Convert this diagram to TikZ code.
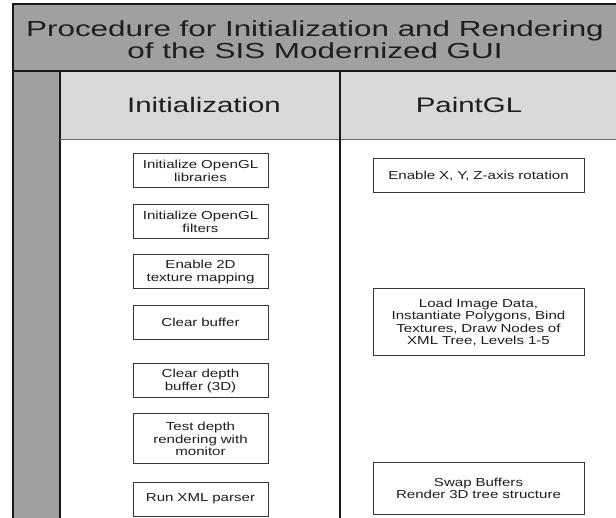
\documentclass[tikz,border=0pt]{standalone}
\usepackage{fontspec}
\setmainfont[FakeStretch=1.4]{Liberation Sans}
\newfontfamily\boxfont[FakeStretch=1.3]{Liberation Sans}
\newfontfamily\titlefont[FakeStretch=1.44]{Liberation Sans}
\definecolor{bandgray}{RGB}{160,160,160}
\definecolor{hdrgray}{RGB}{217,217,217}
\definecolor{edge}{RGB}{25,25,25}
\definecolor{boxedge}{RGB}{55,55,55}
\definecolor{txt}{RGB}{30,30,30}
\tikzset{
  stepbox/.style={draw=boxedge, line width=1pt, fill=white, inner sep=0pt,
    align=center, text=txt, font=\boxfont\fontsize{11.6}{12.5}\selectfont},
  lbox/.style={stepbox, minimum width=135pt, minimum height=34pt, text width=132pt},
  rbox/.style={stepbox, minimum width=211pt, minimum height=34pt, text width=207pt},
  frame/.style={draw=edge, line width=1.6pt},
  hdrtext/.style={text=txt, font=\fontsize{21}{24}\selectfont, inner sep=0pt},
}
\begin{document}
\begin{tikzpicture}[x=1pt,y=-1pt]
\useasboundingbox (0,0) rectangle (616,518);
% backgrounds
\fill[bandgray] (13,4) rectangle (630,71);
\fill[bandgray] (13,71) rectangle (60,530);
\fill[hdrgray] (60,71) rectangle (630,139);
% frame lines
\draw[frame] (630,4) -- (13,4) -- (13,530);
\draw[frame] (13,71) -- (630,71);
\draw[frame] (60,71) -- (60,530);
\draw[draw=black!60, line width=0.8pt] (60,139) -- (630,139);
\draw[frame, line width=1.3pt] (340,71) -- (340,530);
% title
\node[text=txt, align=center, inner sep=0pt, font=\titlefont\fontsize{21.8}{21.7}\selectfont]
  (title) at (315,40) {Procedure for Initialization and Rendering\\of the SIS Modernized GUI};
% headers
\node[hdrtext] (hinit) at (204,104.5) {Initialization};
\node[hdrtext] (hpaint) at (469,104.5) {PaintGL};
% left column
\node[lbox] (i1) at (200.5,171) {Initialize OpenGL\\libraries};
\node[lbox] (i2) at (200.5,222) {Initialize OpenGL\\filters};
\node[lbox] (i3) at (200.5,272) {Enable 2D\\texture mapping};
\node[lbox] (i4) at (200.5,322.5) {Clear buffer};
\node[lbox] (i5) at (200.5,381) {Clear depth\\buffer (3D)};
\node[lbox, minimum height=50pt] (i6) at (200.5,439) {Test depth\\rendering with\\monitor};
\node[lbox] (i7) at (200.5,499) {Run XML parser};
% right column
\node[rbox] (p1) at (478.5,176) {Enable X, Y, Z-axis rotation};
\node[rbox, minimum height=67pt] (p2) at (478.5,322.5) {Load Image Data,\\Instantiate Polygons, Bind\\Textures, Draw Nodes of\\XML Tree, Levels 1-5};
\node[rbox, minimum height=51pt] (p3) at (478.5,488.5) {Swap Buffers\\Render 3D tree structure};
\end{tikzpicture}
\end{document}
